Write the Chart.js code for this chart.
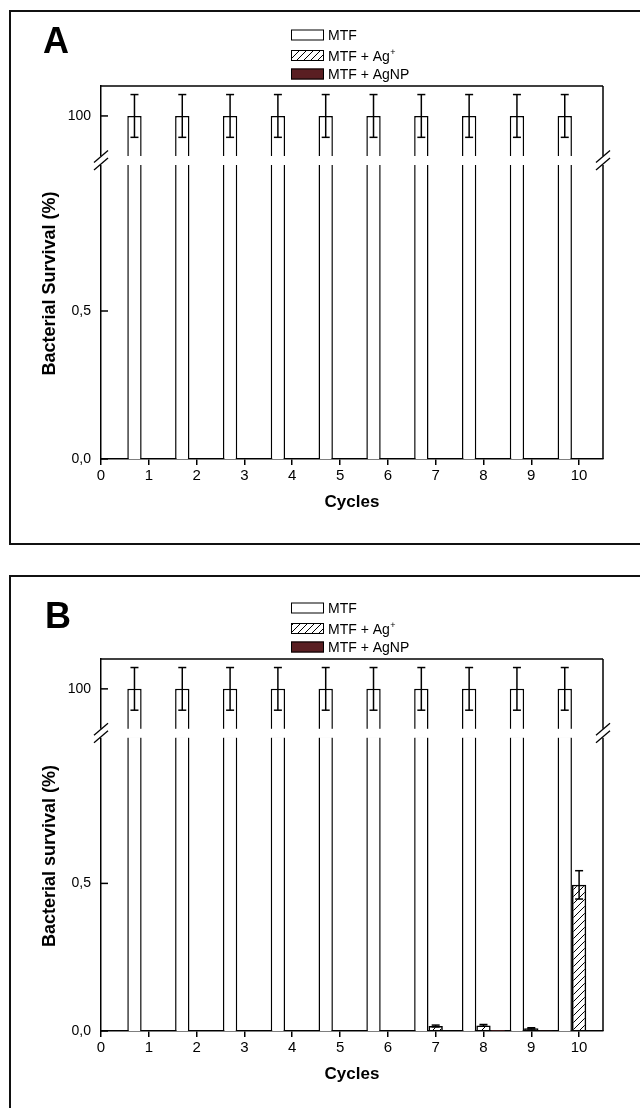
<!DOCTYPE html>
<html>
<head>
<meta charset="utf-8">
<script src="https://cdn.jsdelivr.net/npm/chart.js@4"></script>
<style>
  html, body { margin: 0; padding: 0; background: #fff; }
  #page { position: relative; width: 640px; height: 1108px; overflow: hidden; background: #fff; }
  canvas { position: absolute; left: 0; }
  .frame { position: absolute; border: 2px solid #111; box-sizing: border-box; pointer-events: none; }
</style>
</head>
<body>
<div id="page">
  <canvas id="chartA" width="640" height="560" style="top:0"></canvas>
  <canvas id="chartB" width="640" height="548" style="top:560px"></canvas>
  <div class="frame" style="left:9px;top:10px;width:660px;height:535px"></div>
  <div class="frame" style="left:9px;top:575px;width:660px;height:560px"></div>
</div>
<script>
// Values. Survival in %, error = SD.
const cycles      = [1, 2, 3, 4, 5, 6, 7, 8, 9, 10];
const seriesNames = ["MTF", "MTF + Ag⁺", "MTF + AgNP"];

// Panel A
const mtfA     = [100, 100, 100, 100, 100, 100, 100, 100, 100, 100];
const mtfErrA  = [10, 10, 10, 10, 10, 10, 10, 10, 10, 10];
const agA      = [0, 0, 0, 0, 0, 0, 0, 0, 0, 0];
const agErrA   = [0, 0, 0, 0, 0, 0, 0, 0, 0, 0];
const agnpA    = [0, 0, 0, 0, 0, 0, 0, 0, 0, 0];
const agnpErrA = [0, 0, 0, 0, 0, 0, 0, 0, 0, 0];

// Panel B
const mtfB     = [100, 100, 100, 100, 100, 100, 100, 100, 100, 100];
const mtfErrB  = [10, 10, 10, 10, 10, 10, 10, 10, 10, 10];
const agB      = [0, 0, 0, 0, 0, 0, 0.017, 0.019, 0.009, 0.495];
const agErrB   = [0, 0, 0, 0, 0, 0, 0.003, 0.003, 0.002, 0.048];
const agnpB    = [0, 0, 0, 0, 0, 0, 0, 0.003, 0.002, 0];
const agnpErrB = [0, 0, 0, 0, 0, 0, 0, 0, 0, 0];

// broken y axis: upper part around 100 %, lower part 0..1 %
const topRange    = [78, 114];
const bottomRange = [0, 1];
const topTicks    = [100];
const bottomTicks = [0, 0.5];

Chart.defaults.font.family = "'Liberation Sans', Arial, sans-serif";
Chart.defaults.color = "#000";
Chart.defaults.animation = false;

function hatch() {
  const c = document.createElement("canvas");
  c.width = c.height = 7;
  const g = c.getContext("2d");
  g.strokeStyle = "#000";
  g.lineWidth = 1;
  g.beginPath();
  g.moveTo(-1, 8); g.lineTo(8, -1);
  g.moveTo(-1, 1); g.lineTo(1, -1);
  g.moveTo(6, 8); g.lineTo(8, 6);
  g.stroke();
  return g.createPattern(c, "repeat");
}

const fills = ["#ffffff", hatch(), "#5a1e22"];
const stacks = ["mtf", "ag", "agnp"];
const fmtTick = (v) => (v >= 10 ? String(v) : v.toFixed(1).replace(".", ","));

function line(ctx, x1, y1, x2, y2) {
  ctx.beginPath(); ctx.moveTo(x1, y1); ctx.lineTo(x2, y2); ctx.stroke();
}

// frame, axis break, inward ticks, error bars, legend, panel letter, y title
const decor = {
  id: "decor",
  afterDatasetsDraw(chart) {
    const { ctx, chartArea: { left, right, top, bottom }, scales } = chart;
    const split = scales.yBot.top;
    ctx.save();
    ctx.strokeStyle = "#000";
    ctx.lineWidth = 1.5;

    line(ctx, left, top, right, top);
    line(ctx, right, top, right, bottom);

    for (const id of ["yTop", "yBot"]) {
      for (const t of scales[id].ticks) {
        const y = scales[id].getPixelForValue(t.value);
        line(ctx, left, y, left + 7, y);
      }
    }

    chart.data.datasets.forEach((ds, di) => {
      const meta = chart.getDatasetMeta(di);
      const ys = scales[ds.yAxisID];
      ds.raw.forEach((v, i) => {
        const e = ds.errors[i];
        if (!e || v < ys.min || v > ys.max) return;
        const x = meta.data[i].x;
        const y1 = ys.getPixelForValue(v + e);
        const y2 = ys.getPixelForValue(v - e);
        line(ctx, x, y1, x, y2);
        line(ctx, x - 4, y1, x + 4, y1);
        line(ctx, x - 4, y2, x + 4, y2);
      });
    });

    ctx.fillStyle = "#fff";
    ctx.fillRect(left - 2, split - 7, right - left + 4, 9);
    ctx.lineWidth = 1.3;
    for (const x of [left, right]) {
      for (const y of [split - 6.5, split + 1]) line(ctx, x - 7, y + 6, x + 7, y - 6);
    }
    ctx.restore();
  },
  afterDraw(chart, _args, o) {
    const { ctx, chartArea: { left, right, top, bottom } } = chart;
    ctx.save();

    // legend
    const rows = [-51, -30.5, -12];
    chart.data.datasets.filter((d) => d.yAxisID === "yTop").forEach((ds, i) => {
      const cy = top + rows[i];
      ctx.fillStyle = ds.backgroundColor;
      ctx.fillRect(291, cy - 5.5, 33, 11);
      ctx.strokeStyle = "#000";
      ctx.lineWidth = 1;
      ctx.strokeRect(291.5, cy - 5, 32, 10);
      ctx.fillStyle = "#000";
      ctx.font = "14px 'Liberation Sans Narrow', 'Liberation Sans', sans-serif";
      const sup = ds.label.endsWith("⁺");
      const base = sup ? ds.label.slice(0, -1) : ds.label;
      ctx.fillText(base, 328, cy + 5);
      if (sup) {
        const w = ctx.measureText(base).width;
        ctx.font = "9px 'Liberation Sans', sans-serif";
        ctx.fillText("+", 328 + w + 0.5, cy - 1);
      }
    });

    ctx.font = "bold 36px 'Liberation Sans', Arial, sans-serif";
    ctx.fillText(o.letter, o.letterX, o.letterY);

    ctx.font = "bold 18px 'Liberation Sans', Arial, sans-serif";
    ctx.translate(50, (top + bottom) / 2 + 11);
    ctx.rotate(-Math.PI / 2);
    ctx.textAlign = "center";
    ctx.textBaseline = "middle";
    ctx.fillText(o.yTitle, 0, 0);
    ctx.restore();
  },
};

function buildPanel(canvasId, series, errors, opts) {
  const datasets = [];
  // upper segment (bars drawn from the break up to the value)
  series.forEach((vals, k) => {
    datasets.push({
      label: seriesNames[k],
      yAxisID: "yTop",
      stack: stacks[k],
      base: topRange[0],
      raw: vals,
      errors: errors[k],
      data: vals.map((v, i) => ({ x: cycles[i], y: v >= topRange[0] ? v : null })),
      backgroundColor: fills[k],
      borderColor: "#000",
      borderWidth: 1.5,
    });
  });
  // lower segment (values clipped at the break)
  series.forEach((vals, k) => {
    datasets.push({
      label: seriesNames[k],
      yAxisID: "yBot",
      stack: stacks[k],
      raw: vals,
      errors: errors[k],
      data: vals.map((v, i) => ({ x: cycles[i], y: Math.min(v, bottomRange[1]) })),
      backgroundColor: fills[k],
      borderColor: k === 2 ? "#2a0c0e" : "#000",
      borderWidth: k === 2 ? 1 : 1.5,
    });
  });

  return new Chart(document.getElementById(canvasId), {
    type: "bar",
    data: { datasets },
    plugins: [decor],
    options: {
      responsive: false,
      categoryPercentage: 0.9,
      barPercentage: 1,
      layout: { padding: { top: opts.padTop, bottom: opts.padBottom, left: 61, right: 37 } },
      plugins: {
        legend: { display: false },
        tooltip: { enabled: false },
        decor: { letter: opts.letter, letterX: opts.letterX, letterY: opts.letterY, yTitle: opts.yTitle },
      },
      scales: {
        x: {
          type: "linear",
          offset: false,
          min: 0,
          max: 10.5,
          afterFit: (s) => { s.height = 60; },
          ticks: { stepSize: 1, includeBounds: false, autoSkip: false, maxRotation: 0, padding: 2, font: { size: 15 } },
          grid: { offset: false, drawOnChartArea: false, tickLength: 6, color: "#000", lineWidth: 1.5 },
          border: { color: "#000", width: 1.5 },
          title: { display: true, text: "Cycles", font: { size: 17, weight: "bold" }, padding: { top: 0, bottom: 6 } },
        },
        yBot: {
          type: "linear",
          position: "left",
          stack: "survival",
          stackWeight: 296,
          stacked: false,
          min: bottomRange[0],
          max: bottomRange[1],
          afterFit: (s) => { s.width = 40; },
          afterBuildTicks: (s) => { s.ticks = bottomTicks.map((value) => ({ value })); },
          ticks: { padding: 10, font: { size: 14 }, callback: fmtTick },
          grid: { display: false, drawTicks: false },
          border: { color: "#000", width: 1.5 },
        },
        yTop: {
          type: "linear",
          position: "left",
          stack: "survival",
          stackWeight: 77,
          stacked: false,
          min: topRange[0],
          max: topRange[1],
          afterFit: (s) => { s.width = 40; },
          afterBuildTicks: (s) => { s.ticks = topTicks.map((value) => ({ value })); },
          ticks: { padding: 10, font: { size: 14 }, callback: fmtTick },
          grid: { display: false, drawTicks: false },
          border: { color: "#000", width: 1.5 },
        },
      },
    },
  });
}

buildPanel("chartA", [mtfA, agA, agnpA], [mtfErrA, agErrA, agnpErrA], {
  padTop: 86, padBottom: 41, letter: "A", letterX: 43, letterY: 53,
  yTitle: "Bacterial Survival (%)",
});
buildPanel("chartB", [mtfB, agB, agnpB], [mtfErrB, agErrB, agnpErrB], {
  padTop: 99, padBottom: 17, letter: "B", letterX: 45, letterY: 68,
  yTitle: "Bacterial survival (%)",
});
</script>
</body>
</html>
